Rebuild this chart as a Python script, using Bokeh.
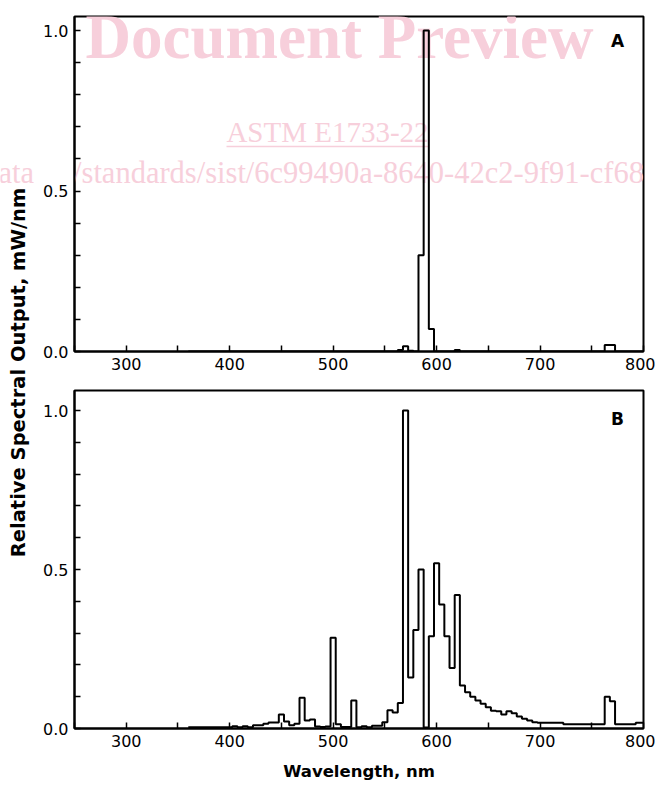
import math
from bokeh.plotting import figure
from bokeh.layouts import row, column
from bokeh.models import Range1d, FixedTicker, PrintfTickFormatter, Label
from bokeh.embed import file_html
from bokeh.resources import INLINE

# ---------------- data (5 nm bands, relative output) ----------------
wavelength = list(range(360, 805, 5))

output_a = (
    [0, 0, 0, 0, 0, 0, 0, 0, 0]                            # 360-400
    + [0, 0, 0, 0, 0, 0, 0, 0, 0, 0]                       # 405-450
    + [0, 0, 0, 0, 0, 0, 0, 0, 0, 0]                       # 455-500
    + [0, 0, 0, 0, 0, 0, 0, 0, 0, 0]                       # 505-550
    + [0, 0, 0.005, 0.016, 0.002, 0, 0.30, 1.0, 0.07, 0]   # 555-600
    + [0, 0, 0, 0.005, 0, 0, 0, 0, 0, 0]                   # 605-650
    + [0, 0, 0, 0, 0, 0, 0, 0, 0, 0]                       # 655-700
    + [0, 0, 0, 0, 0, 0, 0, 0, 0, 0]                       # 705-750
    + [0, 0, 0.02, 0.02, 0, 0, 0, 0, 0, 0]                 # 755-800
)

output_b = (
    [0.004, 0.004, 0.004, 0.004, 0.004, 0.004, 0.004, 0.004, 0.004]        # 360-400
    + [0.007, 0.004, 0.007, 0.004, 0.010, 0.010, 0.015, 0.019, 0.019, 0.044]  # 405-450
    + [0.022, 0.010, 0.015, 0.097, 0.025, 0.028, 0.006, 0.005, 0.006, 0.285]  # 455-500
    + [0.013, 0.005, 0.005, 0.088, 0.004, 0.007, 0.004, 0.009, 0.009, 0.020]  # 505-550
    + [0.057, 0.050, 0.080, 1.000, 0.160, 0.310, 0.500, 0.003, 0.290, 0.520]  # 555-600
    + [0.390, 0.290, 0.190, 0.420, 0.135, 0.114, 0.100, 0.088, 0.078, 0.067]  # 605-650
    + [0.056, 0.054, 0.044, 0.054, 0.048, 0.038, 0.031, 0.025, 0.020, 0.018]  # 655-700
    + [0.018, 0.018, 0.018, 0.018, 0.013, 0.013, 0.013, 0.013, 0.013, 0.013]  # 705-750
    + [0.013, 0.013, 0.100, 0.086, 0.013, 0.013, 0.013, 0.013, 0.018, 0.018]  # 755-800
)
assert len(output_a) == len(wavelength) == len(output_b)

x_ticks = [300, 400, 500, 600, 700, 800]
x_minor = [250, 350, 450, 550, 650, 750]
y_ticks = [0.0, 0.5, 1.0]
y_minor = [0.1, 0.2, 0.3, 0.4, 0.6, 0.7, 0.8, 0.9]

# ---------------- layout geometry (page pixels) ----------------
PAGE_W, PAGE_H = 655, 786
LAB_W = 34
FIG_W = PAGE_W - LAB_W
A_H, B_H = 375, 411
FR_L, FR_R = 74, 643                # frame left/right on page
A_TOP, A_BOT = 16, 351
B_TOP, B_BOT = 390, 728
A_YMAX = (A_BOT - A_TOP) / 321.0
B_YMAX = (B_BOT - B_TOP) / 318.0

PINK = "#f7cfdb"
TICK_FONT = "DejaVu Sans"
URL = "/catalog/standards/sist/6c99490a-8640-42c2-9f91-cf684d0"
URL_SIZE = "30.5px"
URL_X, URL_Y = -24, 172


def to_data(gx, gy, top, bot, ymax):
    x = 250 + (gx - FR_L) * 550.0 / (FR_R - FR_L)
    y = (bot - gy) * ymax / (bot - top)
    return x, y


def make_panel(h, top_px, bot_border, ymax):
    p = figure(width=FIG_W, height=h,
               x_range=Range1d(250, 800), y_range=Range1d(0, ymax),
               output_backend="svg", toolbar_location=None,
               min_border_left=FR_L - LAB_W, min_border_right=PAGE_W - FR_R,
               min_border_top=top_px, min_border_bottom=bot_border)
    p.xgrid.visible = False
    p.ygrid.visible = False
    p.outline_line_color = "black"
    p.outline_line_width = 2
    p.outline_line_alpha = 1
    p.background_fill_color = "white"
    p.border_fill_color = None
    p.xaxis.ticker = FixedTicker(ticks=x_ticks, minor_ticks=x_minor)
    p.yaxis.ticker = FixedTicker(ticks=y_ticks, minor_ticks=y_minor)
    p.yaxis.formatter = PrintfTickFormatter(format="%.1f")
    for ax in (p.xaxis[0], p.yaxis[0]):
        ax.axis_line_width = 2
        ax.axis_line_color = "black"
        ax.major_tick_in = 6
        ax.major_tick_out = 0
        ax.minor_tick_in = 6
        ax.minor_tick_out = 0
        ax.major_tick_line_width = 1.5
        ax.minor_tick_line_width = 1.5
        ax.major_tick_line_color = "black"
        ax.minor_tick_line_color = "black"
        ax.major_label_text_font = TICK_FONT
        ax.major_label_text_font_size = "16px"
        ax.major_label_text_color = "black"
        ax.major_label_standoff = 6
    return p


def wm_label(p, gx, gy, text, size, bold, align, geo):
    x, y = to_data(gx, gy, *geo)
    p.add_layout(Label(x=x, y=y, text=text, text_font="Liberation Serif",
                       text_font_size=size, text_font_style="bold" if bold else "normal",
                       text_color=PINK, text_align=align, text_baseline="middle",
                       level="underlay"))


geoA = (A_TOP, A_BOT, A_YMAX)
geoB = (B_TOP, B_BOT, B_YMAX)

# ---------------- panel A ----------------
pa = make_panel(A_H, A_TOP, A_H - A_BOT, A_YMAX)
wm_label(pa, 339, 36, "Document Preview", "63px", True, "center", geoA)
wm_label(pa, 327, 131, "ASTM E1733-22", "29px", False, "center", geoA)
ux0, uy = to_data(226, 146, *geoA)
ux1, _ = to_data(428, 146, *geoA)
pa.segment(x0=[ux0], y0=[uy], x1=[ux1], y1=[uy], line_color=PINK, line_width=1.5, level="underlay")
# URL line in canvas units (it crosses the left border of the panel)
pa.add_layout(Label(x=URL_X - LAB_W, y=URL_Y, x_units="canvas", y_units="canvas", text=URL,
                    text_font="Liberation Serif", text_font_size=URL_SIZE, text_color=PINK,
                    text_align="left", text_baseline="middle", level="underlay"))

pa.step(wavelength, output_a, mode="center", line_color="black", line_width=2)
lx, ly = to_data(617, 40, *geoA)
pa.add_layout(Label(x=lx, y=ly, text="A", text_font=TICK_FONT, text_font_style="bold",
                    text_font_size="17px", text_align="center", text_baseline="middle",
                    text_color="black"))

# ---------------- panel B ----------------
pb = make_panel(B_H, B_TOP - A_H, PAGE_H - B_BOT, B_YMAX)
pb.step(wavelength, output_b, mode="center", line_color="black", line_width=2)
pb.xaxis.axis_label = "Wavelength, nm"
pb.xaxis.axis_label_text_font = TICK_FONT
pb.xaxis.axis_label_text_font_style = "bold"
pb.xaxis.axis_label_text_font_size = "16.5px"
pb.xaxis.axis_label_text_color = "black"
pb.xaxis.axis_label_standoff = 12
lx, ly = to_data(617, 418, *geoB)
pb.add_layout(Label(x=lx, y=ly, text="B", text_font=TICK_FONT, text_font_style="bold",
                    text_font_size="17px", text_align="center", text_baseline="middle",
                    text_color="black"))

# ---------------- left strip with the shared y-axis title ----------------
lab = figure(width=LAB_W, height=PAGE_H, x_range=Range1d(0, LAB_W), y_range=Range1d(0, PAGE_H),
             output_backend="svg", toolbar_location=None, min_border=0,
             x_axis_location=None, y_axis_location=None)
lab.xgrid.visible = False
lab.ygrid.visible = False
lab.outline_line_color = None
lab.background_fill_color = "white"
lab.border_fill_color = "white"
lab.add_layout(Label(x=URL_X, y=PAGE_H - URL_Y, text=URL, text_font="Liberation Serif",
                     text_font_size=URL_SIZE, text_color=PINK, text_align="left",
                     text_baseline="middle"))
lab.add_layout(Label(x=18, y=PAGE_H - 372, text="Relative Spectral Output, mW/nm",
                     angle=math.pi / 2, text_font=TICK_FONT, text_font_style="bold",
                     text_font_size="19.5px", text_align="center", text_baseline="middle",
                     text_color="black"))

layout = row(lab, column(pa, pb))
open("out.html", "w").write(file_html(layout, INLINE))
